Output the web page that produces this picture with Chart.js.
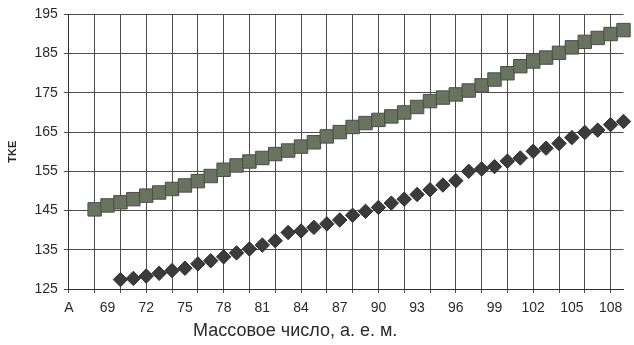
<!DOCTYPE html>
<html>
<head>
<meta charset="utf-8">
<script src="https://cdn.jsdelivr.net/npm/chart.js@4/dist/chart.umd.min.js"></script>
<style>
  html, body { margin: 0; padding: 0; background: #fff; }
  #wrap { width: 634px; height: 345px; }
</style>
</head>
<body>
<div id="wrap"><canvas id="tke" width="634" height="345"></canvas></div>
<script>
// Category axis: first slot carries the axis symbol, then mass numbers 67..109
const axisSymbol = 'A';
const massNumbers = [67, 68, 69, 70, 71, 72, 73, 74, 75, 76, 77, 78, 79, 80, 81, 82, 83, 84, 85, 86, 87, 88,
  89, 90, 91, 92, 93, 94, 95, 96, 97, 98, 99, 100, 101, 102, 103, 104, 105, 106, 107, 108, 109];

// Upper series (squares), A = 68..109
const upperStartMass = 68;
const tkeUpper = [145.3, 146.3, 147.1, 147.9, 148.8, 149.6, 150.5, 151.4, 152.5, 153.8, 155.4, 156.5,
  157.5, 158.4, 159.4, 160.3, 161.3, 162.4, 163.9, 165.0, 166.3, 167.3, 168.1, 169.0, 170.0, 171.4,
  172.9, 173.8, 174.6, 175.6, 176.9, 178.4, 180.0, 181.8, 183.0, 184.0, 185.2, 186.6, 188.0, 189.0,
  190.0, 191.0];

// Lower series (diamonds), A = 70..109
const lowerStartMass = 70;
const tkeLower = [127.4, 127.7, 128.3, 129.0, 129.7, 130.3, 131.4, 132.2, 133.2, 134.2, 135.2, 136.2,
  137.3, 139.4, 139.8, 140.7, 141.6, 142.6, 143.8, 144.8, 145.8, 146.9, 147.9, 149.1, 150.3, 151.5,
  152.6, 155.0, 155.6, 156.2, 157.6, 158.4, 160.1, 160.9, 162.1, 163.6, 164.9, 165.5, 166.9, 167.7];

const yTicks = [125, 135, 145, 155, 165, 175, 185, 195];

const xTitle = 'Массовое число, а. е. м.';
const yTitle = 'TKE';

const labels = [axisSymbol, ...massNumbers.map(String)];

// Place a series on the category slots, leaving earlier slots empty
function alignSeries(startMass, values) {
  const out = new Array(labels.length).fill(null);
  const startIdx = 1 + massNumbers.indexOf(startMass);
  values.forEach((v, i) => { out[startIdx + i] = v; });
  return out;
}

const gridColor = '#4c4c4c';
const textColor = '#2a2a2a';
const fontFamily = '"Liberation Sans", Arial, sans-serif';

// Axis caption under the category labels, set a little left of the plot centre
const xCaption = {
  id: 'xCaption',
  afterDraw(chart) {
    const { ctx, chartArea } = chart;
    ctx.save();
    ctx.fillStyle = textColor;
    ctx.font = '18px ' + fontFamily;
    ctx.textAlign = 'center';
    ctx.textBaseline = 'middle';
    ctx.fillText(xTitle, chartArea.left + chartArea.width * 0.408, chart.height - 14);
    ctx.restore();
  }
};

new Chart(document.getElementById('tke'), {
  type: 'line',
  data: {
    labels,
    datasets: [
      {
        data: alignSeries(upperStartMass, tkeUpper),
        showLine: false,
        pointStyle: 'rect',
        pointRadius: 9.5,
        pointBackgroundColor: '#68745f',
        pointBorderColor: '#4a4d48',
        pointBorderWidth: 1,
        clip: false
      },
      {
        data: alignSeries(lowerStartMass, tkeLower),
        showLine: false,
        pointStyle: 'rectRot',
        pointRadius: 7.2,
        pointBackgroundColor: '#3b3b3b',
        pointBorderColor: '#2b2b2b',
        pointBorderWidth: 1,
        clip: false
      }
    ]
  },
  options: {
    responsive: false,
    devicePixelRatio: 1,
    animation: false,
    layout: { padding: { top: 13, right: 4, bottom: 0, left: 0 } },
    plugins: { legend: { display: false }, tooltip: { enabled: false } },
    scales: {
      x: {
        type: 'category',
        offset: false,
        grid: {
          color: ctx => (ctx.index % 2 === 0 ? gridColor : 'rgba(0,0,0,0)'),
          lineWidth: 1,
          tickLength: 4
        },
        border: { color: '#333', width: 1 },
        ticks: {
          autoSkip: false,
          maxRotation: 0,
          padding: 7,
          color: textColor,
          font: { family: fontFamily, size: 14 },
          callback: function (value, index) {
            return index % 3 === 0 ? this.getLabelForValue(value) : '';
          }
        },
        title: { display: false },
        afterFit: scale => { scale.height = 56; }
      },
      y: {
        min: yTicks[0],
        max: yTicks[yTicks.length - 1],
        afterBuildTicks: scale => { scale.ticks = yTicks.map(v => ({ value: v })); },
        grid: { color: gridColor, lineWidth: 1, tickLength: 5 },
        border: { color: '#333', width: 1 },
        ticks: {
          padding: 6,
          color: textColor,
          font: { family: fontFamily, size: 14 }
        },
        title: {
          display: true,
          text: yTitle,
          color: textColor,
          font: { family: fontFamily, size: 11, weight: 'bold' },
          padding: { top: 6, bottom: 0 }
        },
        afterFit: scale => { scale.width = 68.85; }
      }
    }
  },
  plugins: [xCaption]
});
</script>
</body>
</html>
